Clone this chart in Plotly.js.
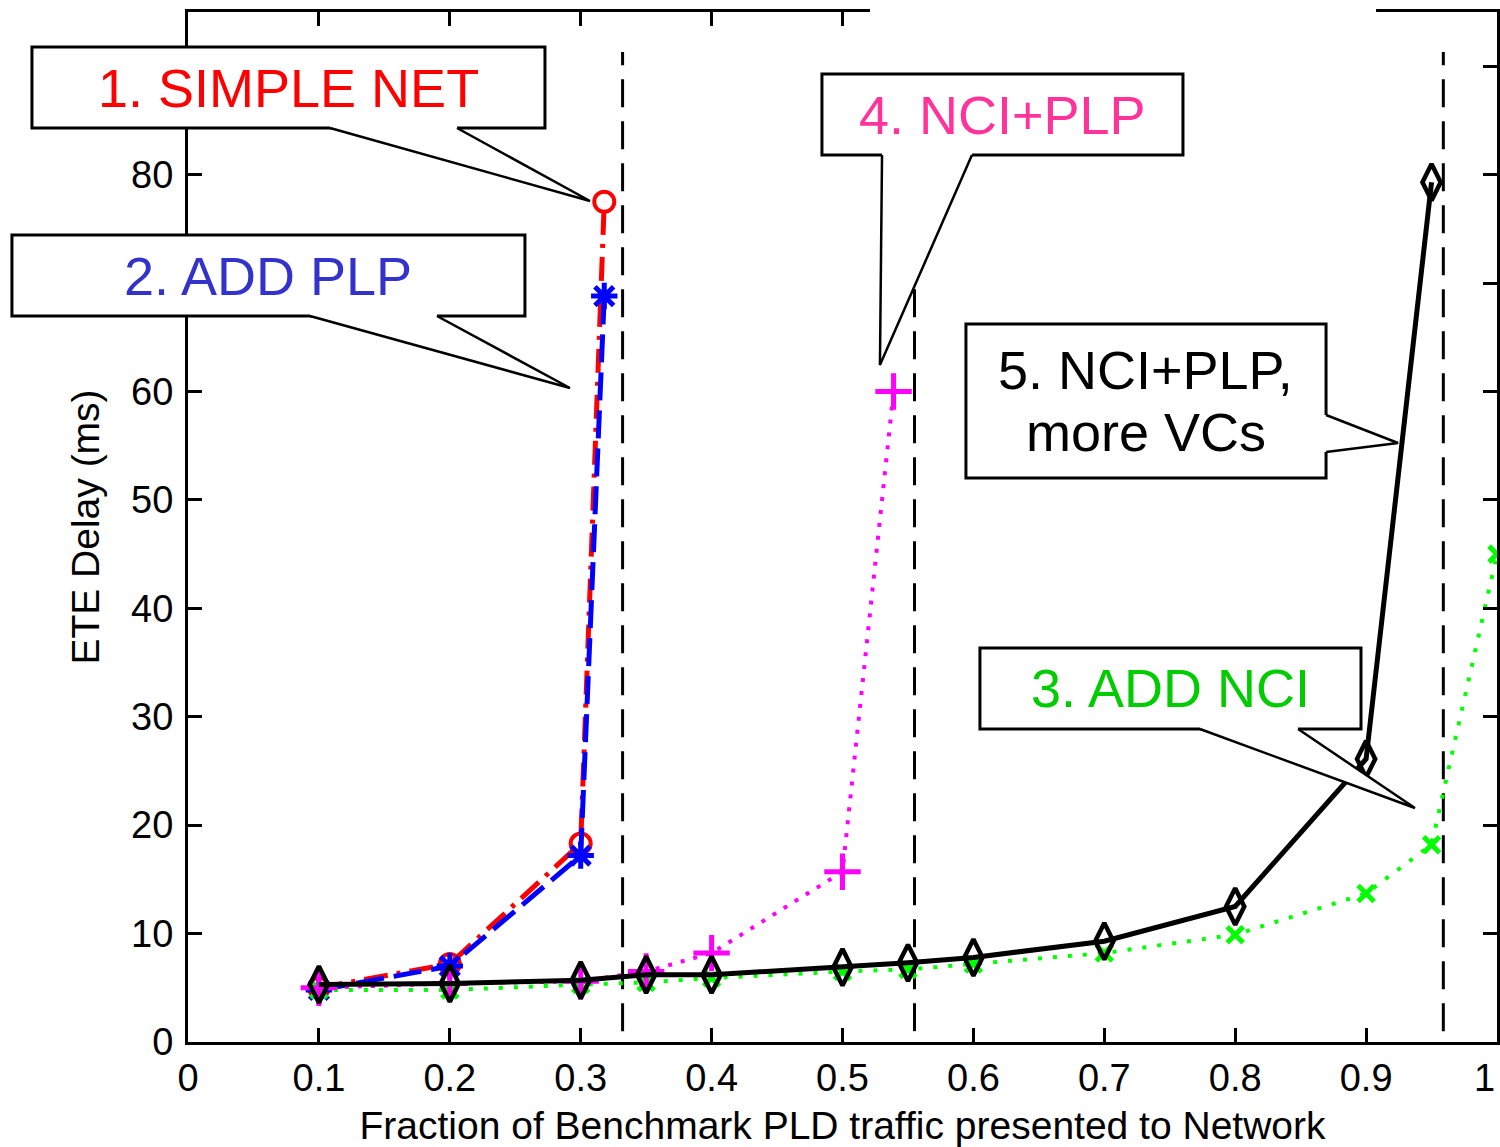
<!DOCTYPE html>
<html>
<head>
<meta charset="utf-8">
<script src="https://cdn.plot.ly/plotly-3.0.1.min.js"></script>
<style>html,body{margin:0;padding:0;background:#fff;}</style>
</head>
<body>
<div id="chart" style="width:1500px;height:1147px;"></div>
<script>
// ---- tick labels ----
const xTickVals = [0, 0.1, 0.2, 0.3, 0.4, 0.5, 0.6, 0.7, 0.8, 0.9, 1];
// the last label ("1") sits at the right edge; drawn right-aligned below
const xTickText = ['0', '0.1', '0.2', '0.3', '0.4', '0.5', '0.6', '0.7', '0.8', '0.9', ''];
const xEdgeLabel = '1';
const yTickVals = [0, 10, 20, 30, 40, 50, 60, 70, 80, 90];
// labels 70 and 90 are hidden behind the callout boxes in the reference
const yTickText = ['0', '10', '20', '30', '40', '50', '60', '', '80', ''];

// ---- series (fraction of benchmark traffic -> ETE delay, ms) ----
const simpleNetX = [0.1, 0.2, 0.3, 0.318];
const simpleNetY = [5.0, 7.2, 18.3, 77.5];

const addPlpX = [0.1, 0.2, 0.3, 0.318];
const addPlpY = [4.8, 7.0, 17.2, 68.8];

const addNciX = [0.1, 0.2, 0.3, 0.35, 0.4, 0.5, 0.55, 0.6, 0.7, 0.8, 0.9, 0.95, 1.0];
const addNciY = [4.8, 4.8, 5.3, 5.5, 5.9, 6.5, 6.7, 7.2, 8.2, 9.9, 13.7, 18.2, 45.0];

const nciPlpX = [0.1, 0.2, 0.3, 0.35, 0.4, 0.5, 0.539];
const nciPlpY = [5.0, 5.4, 5.6, 6.5, 8.2, 15.7, 60.0];

const moreVcX = [0.1, 0.2, 0.3, 0.35, 0.4, 0.5, 0.55, 0.6, 0.7, 0.8, 0.9, 0.95];
const moreVcY = [5.3, 5.4, 5.7, 6.2, 6.2, 6.9, 7.3, 7.8, 9.3, 12.5, 26.1, 79.3];

// capacity limits (vertical dashed lines)
const limitX = [0.332, 0.555, 0.959];
const limitBottom = [1.0, 1.0, 1.0];
const limitTop = [91.3, 70.0, 91.3];

const Y_MAX = 95;

// ---- callouts (data units; x = fraction, y = ms) ----
const callouts = [
  {lines: ['1. SIMPLE NET'], color: '#ff0000',
   box: [-0.1192, 0.2727, 84.30, 91.77],
   tail: [[0.1085, 84.30], [0.3071, 77.57], [0.2055, 84.30]], side: 'bottom'},
  {lines: ['2. ADD PLP'], color: '#3333cc',
   box: [-0.1345, 0.2574, 66.96, 74.43],
   tail: [[0.0932, 66.96], [0.2918, 60.32], [0.1902, 66.96]], side: 'bottom'},
  {lines: ['3. ADD NCI'], color: '#00cc00',
   box: [0.6050, 0.8961, 28.87, 36.34],
   tail: [[0.7731, 28.87], [0.9373, 21.58], [0.8480, 28.87]], side: 'bottom'},
  {lines: ['4. NCI+PLP'], color: '#ff3399',
   box: [0.4843, 0.7601, 81.81, 89.28],
   tail: [[0.5302, 81.81], [0.5286, 62.44], [0.5989, 81.81]], side: 'bottom'},
  {lines: ['5. NCI+PLP,', 'more VCs'], color: '#000000',
   box: [0.5943, 0.8694, 52.02, 66.22],
   tail: [[0.8694, 57.83], [0.9244, 55.25], [0.8694, 54.42]], side: 'right'}
];

const traces = [];
// dashed limit lines
for (let i = 0; i < limitX.length; i++) {
  traces.push({
    x: [limitX[i], limitX[i]], y: [limitBottom[i], limitTop[i]],
    mode: 'lines', line: {color: '#000', width: 3, dash: '28px,14px'},
    hoverinfo: 'skip', showlegend: false
  });
}
traces.push({
  x: simpleNetX, y: simpleNetY, mode: 'lines+markers', name: 'SIMPLE NET',
  line: {color: '#ff0000', width: 5, dash: '24px,9px,4px,9px'},
  marker: {symbol: 'circle-open', size: 20, color: '#ff0000', line: {width: 4, color: '#ff0000'}}
});
traces.push({
  x: addPlpX, y: addPlpY, mode: 'lines+markers', name: 'ADD PLP',
  line: {color: '#0000ff', width: 5, dash: '28px,10px'},
  marker: {symbol: 'asterisk-open', size: 22, color: '#0000ff', line: {width: 5, color: '#0000ff'}}
});
traces.push({
  x: addNciX, y: addNciY, mode: 'lines+markers', name: 'ADD NCI',
  line: {color: '#00ff00', width: 4, dash: '4px,11px'},
  marker: {symbol: 'x-thin-open', size: 16, color: '#00ff00', line: {width: 5, color: '#00ff00'}}
});
traces.push({
  x: nciPlpX, y: nciPlpY, mode: 'lines+markers', name: 'NCI+PLP',
  line: {color: '#ff00ff', width: 4, dash: '4px,9px'},
  marker: {symbol: 'cross-thin-open', size: 26, color: '#ff00ff', line: {width: 5, color: '#ff00ff'}}
});
traces.push({
  x: moreVcX, y: moreVcY, mode: 'lines+markers', name: 'NCI+PLP, more VCs',
  line: {color: '#000000', width: 5},
  marker: {symbol: 'diamond-tall-open', size: 26, color: '#000000', line: {width: 4.5, color: '#000000'}}
});

const shapes = [];
const annotations = [];
const py = v => v / Y_MAX;   // data y -> paper y (x range is [0,1] so x is unchanged)

// gap in the top frame line
shapes.push({type: 'rect', xref: 'paper', yref: 'paper', x0: 0.521, x1: 0.9076, y0: 0.975, y1: 1.02,
  fillcolor: '#ffffff', line: {width: 0}, layer: 'above'});

callouts.forEach(c => {
  const [x0, x1, y0, y1] = c.box;
  shapes.push({type: 'rect', xref: 'paper', yref: 'paper', x0: x0, x1: x1, y0: py(y0), y1: py(y1),
    fillcolor: '#ffffff', line: {color: '#000', width: 3}, layer: 'above'});
  const [a, tip, b] = c.tail;
  let ain, bin;
  if (c.side === 'bottom') { ain = [a[0], a[1] + 0.5]; bin = [b[0], b[1] + 0.5]; }
  else { ain = [a[0] - 0.004, a[1]]; bin = [b[0] - 0.004, b[1]]; }
  const P = p => p[0] + ',' + py(p[1]);
  shapes.push({type: 'path', xref: 'paper', yref: 'paper',
    path: 'M' + P(ain) + ' L' + P(a) + ' L' + P(tip) + ' L' + P(b) + ' L' + P(bin) + ' Z',
    fillcolor: '#ffffff', line: {width: 0}, layer: 'above'});
  shapes.push({type: 'path', xref: 'paper', yref: 'paper',
    path: 'M' + P(a) + ' L' + P(tip) + ' L' + P(b),
    line: {color: '#000', width: 2.5}, layer: 'above'});
  const cx = (x0 + x1) / 2, cy = (y0 + y1) / 2;
  const n = c.lines.length;
  const step = 5.8;
  c.lines.forEach((t, i) => {
    annotations.push({
      xref: 'paper', yref: 'paper', x: cx, y: py(cy + (n - 1) * step / 2 - i * step),
      text: t, showarrow: false, xanchor: 'center', yanchor: 'middle',
      font: {family: 'Liberation Sans, Arial, sans-serif', size: 54, color: c.color}
    });
  });
});

const axisFont = {family: 'Liberation Sans, Arial, sans-serif', size: 38, color: '#000'};

// right-edge x tick label, kept inside the page
annotations.push({
  xref: 'paper', yref: 'paper', x: 1.0, y: 0, xanchor: 'right', yanchor: 'middle',
  yshift: -36, text: xEdgeLabel, showarrow: false, font: axisFont
});

const layout = {
  width: 1500, height: 1147,
  margin: {l: 188, r: 3, t: 12, b: 105},
  paper_bgcolor: '#fff', plot_bgcolor: '#fff',
  showlegend: false,
  xaxis: {
    range: [0, 1], tickvals: xTickVals, ticktext: xTickText,
    ticks: 'inside', ticklen: 14, tickwidth: 3, tickcolor: '#000',
    showline: true, linecolor: '#000', linewidth: 3, mirror: 'ticks',
    showgrid: false, zeroline: false, tickfont: axisFont,
    title: {text: 'Fraction of Benchmark PLD traffic presented to Network',
      font: {family: 'Liberation Sans, Arial, sans-serif', size: 39, color: '#000'}, standoff: 15}
  },
  yaxis: {
    range: [0, Y_MAX], tickvals: yTickVals, ticktext: yTickText,
    ticks: 'inside', ticklen: 14, tickwidth: 3, tickcolor: '#000',
    showline: true, linecolor: '#000', linewidth: 3, mirror: 'ticks',
    showgrid: false, zeroline: false, tickfont: axisFont,
    ticklabelstandoff: 4,
    title: {text: 'ETE Delay (ms)',
      font: {family: 'Liberation Sans, Arial, sans-serif', size: 39, color: '#000'}, standoff: 20}
  },
  shapes: shapes,
  annotations: annotations
};

Plotly.newPlot('chart', traces, layout, {displayModeBar: false, staticPlot: true});
</script>
</body>
</html>
